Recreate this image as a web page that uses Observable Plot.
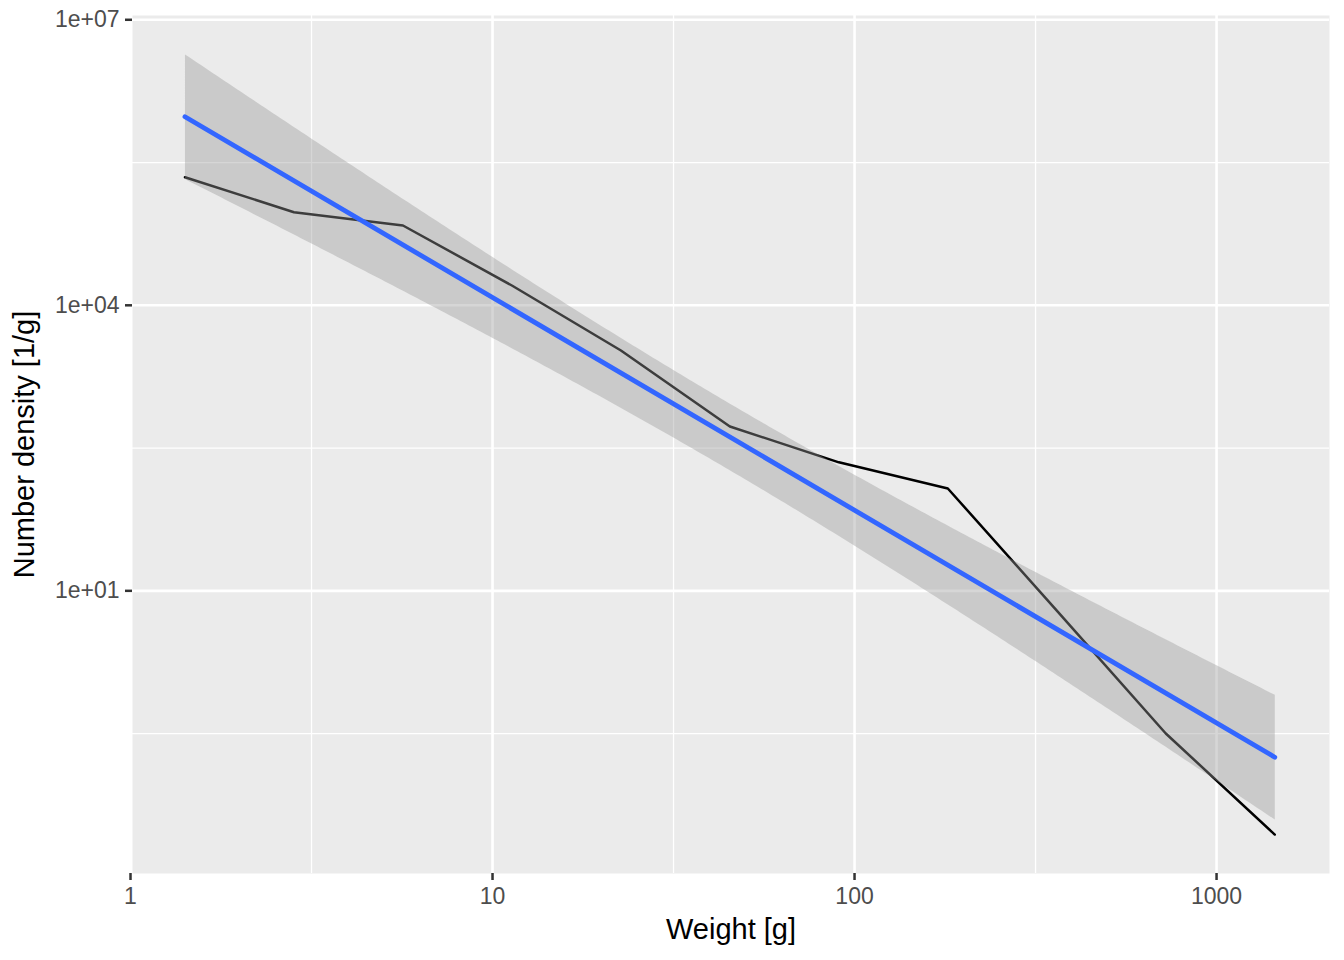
<!DOCTYPE html>
<html>
<head>
<meta charset="utf-8">
<script src="https://cdn.jsdelivr.net/npm/d3@7"></script>
<script src="https://cdn.jsdelivr.net/npm/@observablehq/plot@0.6"></script>
<style>
  html, body { margin: 0; padding: 0; background: #ffffff; }
  svg { display: block; }
</style>
</head>
<body>
<div id="chart"></div>
<script>
// Data
const weights = [1.414, 2.828, 5.657, 11.31, 22.63, 45.25, 90.51, 181.0, 362.0, 724.1, 1448.2];
const densities = [221800, 95100, 69000, 16140, 3350, 533, 224, 119, 6.2, 0.317, 0.0275];

// Tick values
const xTicks = [1, 10, 100, 1000];
const xTickLabels = ["1", "10", "100", "1000"];
const yTicks = [10, 1e4, 1e7];
const yTickLabels = ["1e+01", "1e+04", "1e+07"];
const xMinorGrid = [3.1623, 31.623, 316.23];
const yMinorGrid = [0.31623, 316.23, 316228];

const xTitle = "Weight [g]";
const yTitle = "Number density [1/g]";

// Work in log10 space (log-log axes)
const L = Math.log10;
const rows = weights.map((w, i) => ({lx: L(w), ly: L(densities[i])}));

const xDomain = [0.0055, 3.312];
const yDomain = [-1.970, 7.045];
const inX = v => v >= xDomain[0] && v <= xDomain[1];
const inY = v => v >= yDomain[0] && v <= yDomain[1];

const xTickLogs = xTicks.map(L);
const yTickLogs = yTicks.map(L);

const chart = Plot.plot({
  width: 1344,
  height: 960,
  marginLeft: 132,
  marginRight: 15,
  marginTop: 15,
  marginBottom: 87,
  style: {fontFamily: "'Liberation Sans', Arial, Helvetica, sans-serif", background: "#ffffff"},
  x: {type: "linear", domain: xDomain},
  y: {type: "linear", domain: yDomain},
  marks: [
    Plot.frame({fill: "#EBEBEB", stroke: null}),
    // minor grid
    Plot.ruleX(xMinorGrid.map(L).filter(inX), {stroke: "#ffffff", strokeWidth: 1.3}),
    Plot.ruleY(yMinorGrid.map(L).filter(inY), {stroke: "#ffffff", strokeWidth: 1.3}),
    // major grid
    Plot.ruleX(xTickLogs.filter(inX), {stroke: "#ffffff", strokeWidth: 2.6}),
    Plot.ruleY(yTickLogs.filter(inY), {stroke: "#ffffff", strokeWidth: 2.6}),
    // observed line
    Plot.line(rows, {x: "lx", y: "ly", stroke: "#000000", strokeWidth: 2.5}),
    // linear fit with 95% confidence band
    Plot.linearRegressionY(rows, {
      x: "lx", y: "ly",
      stroke: "#3366FF", strokeWidth: 4.8,
      fill: "#999999", fillOpacity: 0.4,
      ci: 0.95
    }),
    // axes
    Plot.axisX(xTickLogs, {
      tickFormat: (d, i) => xTickLabels[i],
      fontSize: 23, tickSize: 7, tickPadding: 7,
      stroke: "#333333", strokeWidth: 2.5, fill: "#4D4D4D",
      label: null
    }),
    Plot.axisY(yTickLogs, {
      tickFormat: (d, i) => yTickLabels[i],
      fontSize: 23, tickSize: 7, tickPadding: 6,
      stroke: "#333333", strokeWidth: 2.5, fill: "#4D4D4D",
      label: null
    }),
    // axis titles
    Plot.text([xTitle], {
      text: d => d, frameAnchor: "bottom", dy: 65, lineAnchor: "bottom",
      textAnchor: "middle", fontSize: 29, fill: "#000000"
    }),
    Plot.text([yTitle], {
      text: d => d, frameAnchor: "left", dx: -99, rotate: -90, lineAnchor: "bottom",
      textAnchor: "middle", fontSize: 29, fill: "#000000"
    })
  ]
});

document.getElementById("chart").appendChild(chart);
</script>
</body>
</html>
